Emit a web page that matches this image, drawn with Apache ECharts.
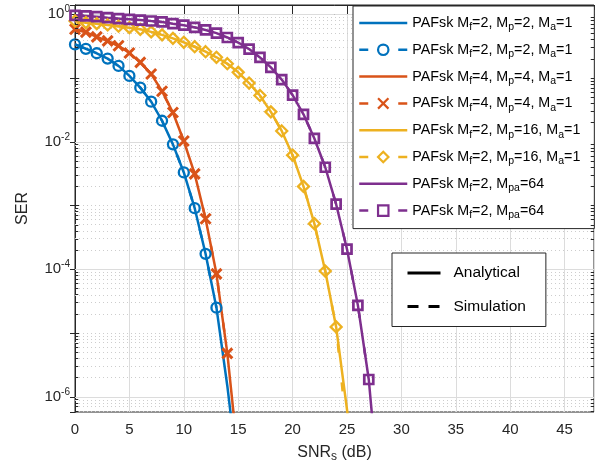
<!DOCTYPE html>
<html><head><meta charset="utf-8">
<script src="https://cdn.jsdelivr.net/npm/echarts@6/dist/echarts.min.js"></script>
<style>html,body{margin:0;padding:0;background:#fff}#c{width:598px;height:468px}</style>
</head><body><div id="c"></div>
<script>
// SNR_s (dB) grid
const snr = [0,1,2,3,4,5,6,7,8,9,10,11,12,13,14,15,16,17,18,19,20,21,22,23,24,25,26,27,28];
// SER values
const blueAna   = [0.337,0.288,0.245,0.202,0.155,0.108,0.0708,0.0427,0.0214,0.00912,0.00331,9.1e-4,1.75e-4,2.5e-5,1.48e-6,5.5e-8];
const blueSim   = [0.337,0.288,0.245,0.202,0.155,0.108,0.0708,0.0427,0.0214,0.00912,0.00331,9.1e-4,1.75e-4,2.5e-5];
const orangeAna = [0.583,0.525,0.443,0.384,0.321,0.247,0.176,0.116,0.0622,0.0288,0.0103,0.00314,6.2e-4,8.5e-5,4.8e-6,1.1e-7];
const orangeSim = [0.583,0.525,0.443,0.384,0.321,0.247,0.176,0.116,0.0622,0.0288,0.0103,0.00314,6.2e-4,8.5e-5,4.8e-6];
const yellowAna = [0.787,0.740,0.714,0.681,0.650,0.618,0.583,0.530,0.476,0.420,0.364,0.310,0.259,0.212,0.168,0.123,0.0836,0.0533,0.0295,0.0148,0.00617,0.0020,5.2e-4,9.4e-5,1.25e-5,6.3e-7,1.6e-8];
const yellowSim = [0.787,0.740,0.714,0.681,0.650,0.618,0.583,0.530,0.476,0.420,0.364,0.310,0.259,0.212,0.168,0.123,0.0836,0.0533,0.0295,0.0148,0.00617,0.0020,5.2e-4,9.4e-5,1.25e-5,2.5e-7];
const purpleAna = [0.964,0.942,0.918,0.885,0.855,0.836,0.813,0.785,0.759,0.714,0.676,0.624,0.569,0.506,0.433,0.361,0.285,0.211,0.147,0.0948,0.0540,0.0270,0.0113,0.00399,1.05e-3,2.07e-4,2.72e-5,1.87e-6,2.4e-8];
const purpleSim = [0.964,0.942,0.918,0.885,0.855,0.836,0.813,0.785,0.759,0.714,0.676,0.624,0.569,0.506,0.433,0.361,0.285,0.211,0.147,0.0948,0.0540,0.0270,0.0113,0.00399,1.05e-3,2.07e-4,2.72e-5,1.87e-6];

const legendLabels = {
  a1:'PAFsk M{s|f}=2, M{s|p}=2, M{s|a}=1', s1:'PAFsk M{s|f}=2, M{s|p}=2, M{s|a}=1',
  a2:'PAFsk M{s|f}=4, M{s|p}=4, M{s|a}=1', s2:'PAFsk M{s|f}=4, M{s|p}=4, M{s|a}=1',
  a3:'PAFsk M{s|f}=2, M{s|p}=16, M{s|a}=1', s3:'PAFsk M{s|f}=2, M{s|p}=16, M{s|a}=1',
  a4:'PAFsk M{s|f}=2, M{s|pa}=64', s4:'PAFsk M{s|f}=2, M{s|pa}=64'
};
const xTicks = [0,5,10,15,20,25,30,35,40,45];
const Y_MIN = 5.78e-7, Y_MAX = 1.4, X_MAX = 47.7;

const FONT = 'Liberation Sans, Arial, Helvetica, sans-serif';
const TXT = '#262626';
const C = ['#0072BD','#D95319','#EDB120','#7E2F8E'];
const crossPath = 'path://M0,0L10,10M10,0L0,10';
const syms = ['circle', crossPath, 'diamond', 'rect'];
const symSizes = [10, 10, 11, 9];
const symBorder = [2.3, 3, 2.3, 2.7];

const pair = (vals) => vals.map((v, i) => [snr[i], v]);
const anaSets = [blueAna, orangeAna, yellowAna, purpleAna];
const simSets = [blueSim, orangeSim, yellowSim, purpleSim];

const series = [];
for (let k = 0; k < 4; k++) {
  series.push({
    name: 'a' + (k + 1), type: 'line', data: pair(anaSets[k]),
    symbol: 'none', z: 3, clip: true,
    lineStyle: { color: C[k], width: 2.5 },
    itemStyle: { color: 'rgba(0,0,0,0)', borderWidth: 0 },
    emphasis: { disabled: true }
  });
  series.push({
    name: 's' + (k + 1), type: 'line', data: pair(simSets[k]),
    symbol: syms[k], symbolSize: symSizes[k], showAllSymbol: true, z: 4, clip: true,
    lineStyle: { color: C[k], width: 2.5, type: [9, 30] },
    itemStyle: { color: 'rgba(0,0,0,0)', borderColor: C[k], borderWidth: symBorder[k] },
    emphasis: { disabled: true }
  });
}
series.push({ name: 'Analytical', type: 'line', data: [], symbol: 'none',
  lineStyle: { color: '#000', width: 3 }, itemStyle: { color: 'rgba(0,0,0,0)', borderWidth: 0 } });
series.push({ name: 'Simulation', type: 'line', data: [], symbol: 'none',
  lineStyle: { color: '#000', width: 3, type: [11, 10] }, itemStyle: { color: 'rgba(0,0,0,0)', borderWidth: 0 } });

// log-decade grid lines and minor ticks, positioned via a hidden log10-space axis
const lg = Math.log10;
const majorY = [1, 1e-2, 1e-4, 1e-6];
const minorY = [];
for (let e = 0; e >= -7; e--) {
  for (let m = 1; m <= 9; m++) {
    const v = m * Math.pow(10, e);
    if (v > Y_MAX || v < Y_MIN) continue;
    if (m === 1 && e % 2 === 0) continue;
    minorY.push(v);
  }
}
const gridData = majorY.map(v => ({ yAxis: lg(v), lineStyle: { color: '#dcdcdc', width: 1, type: 'solid' } }))
  .concat(minorY.map(v => ({ yAxis: lg(v), lineStyle: { color: '#cdcdcd', width: 1, type: [1, 3] } })));
const tickData = [];
minorY.forEach(v => {
  tickData.push([{ coord: [0, lg(v)] }, { coord: [0.3, lg(v)] }]);
  tickData.push([{ coord: [X_MAX - 0.3, lg(v)] }, { coord: [X_MAX, lg(v)] }]);
});
series.push({
  name: '_grid', type: 'line', data: [], yAxisIndex: 2, z: 1, silent: true,
  markLine: { silent: true, symbol: ['none', 'none'], label: { show: false }, z: 1,
    emphasis: { disabled: true }, animation: false, data: gridData }
});
series.push({
  name: '_ticks', type: 'line', data: [], yAxisIndex: 2, z: 6, silent: true,
  markLine: { silent: true, symbol: ['none', 'none'], label: { show: false }, z: 6,
    emphasis: { disabled: true }, animation: false,
    lineStyle: { color: TXT, width: 1, type: 'solid' }, data: tickData }
});

const chart = echarts.init(document.getElementById('c'), null, { renderer: 'canvas' });
chart.setOption({
  animation: false,
  backgroundColor: '#fff',
  textStyle: { fontFamily: FONT },
  grid: { left: 75, right: 4, top: 5, bottom: 56, show: true, borderColor: TXT, borderWidth: 1, backgroundColor: 'rgba(0,0,0,0)' },
  xAxis: [{
    type: 'value', min: 0, max: X_MAX, interval: 5,
    name: 'SNR{s|s} (dB)', nameLocation: 'middle', nameGap: 31,
    nameTextStyle: { fontSize: 16, color: TXT, fontFamily: FONT, lineHeight: 20,
      rich: { s: { fontSize: 12, lineHeight: 12, verticalAlign: 'bottom', fontFamily: FONT, color: TXT } } },
    axisLine: { show: true, lineStyle: { color: TXT } },
    axisTick: { show: true, inside: true, length: 5, lineStyle: { color: TXT } },
    axisLabel: { fontSize: 15, color: TXT, margin: 10, showMaxLabel: false, fontFamily: FONT,
      formatter: v => (xTicks.indexOf(v) >= 0 ? String(v) : '') },
    splitLine: { show: true, lineStyle: { color: '#dcdcdc', width: 1 } }
  }, {
    type: 'value', min: 0, max: X_MAX, interval: 5, position: 'top',
    axisLine: { show: true, lineStyle: { color: TXT } },
    axisTick: { show: true, inside: true, length: 5, lineStyle: { color: TXT } },
    axisLabel: { show: false }, splitLine: { show: false }
  }],
  yAxis: [{
    type: 'log', logBase: 10, min: Y_MIN, max: Y_MAX,
    name: 'SER', nameLocation: 'middle', nameGap: 44,
    nameTextStyle: { fontSize: 16, color: TXT, fontFamily: FONT },
    axisLine: { show: true, lineStyle: { color: TXT } },
    axisTick: { show: true, inside: true, length: 5, lineStyle: { color: TXT } },
    axisLabel: { fontSize: 15, color: TXT, margin: 5, showMinLabel: false, showMaxLabel: false, fontFamily: FONT,
      lineHeight: 20,
      rich: { p: { fontSize: 10, lineHeight: 10, verticalAlign: 'top', fontFamily: FONT, color: TXT } },
      formatter: v => {
        const l = Math.log10(v); const e = Math.round(l);
        if (Math.abs(l - e) > 1e-6 || e % 2 !== 0) return '';
        return '10{p|' + e + '}';
      } },
    splitLine: { show: false }, minorTick: { show: false }
  }, {
    type: 'log', logBase: 10, min: Y_MIN, max: Y_MAX, position: 'right',
    axisLine: { show: true, lineStyle: { color: TXT } },
    axisTick: { show: true, inside: true, length: 5, lineStyle: { color: TXT } },
    axisLabel: { show: false }, splitLine: { show: false }
  }, {
    type: 'value', min: lg(Y_MIN), max: lg(Y_MAX), show: false,
    axisLine: { show: false }, axisTick: { show: false }, axisLabel: { show: false }, splitLine: { show: false }
  }],
  legend: [{
    data: ['a1','s1','a2','s2','a3','s3','a4','s4'],
    orient: 'vertical', left: 353, top: 6,
    itemWidth: 48, itemHeight: 13, itemGap: 6.8,
    padding: [7, 14, 8, 5],
    backgroundColor: '#fff', borderColor: TXT, borderWidth: 1, borderRadius: 0,
    selectedMode: false,
    lineStyle: { width: 2.5 },
    itemStyle: { borderWidth: 2.2 },
    formatter: n => legendLabels[n],
    textStyle: { fontSize: 14.3, color: '#000', fontFamily: FONT, lineHeight: 20,
      rich: { s: { fontSize: 10.5, lineHeight: 12, verticalAlign: 'bottom', fontFamily: FONT, color: '#000' } } }
  }, {
    data: ['Analytical', 'Simulation'],
    orient: 'vertical', left: 392, top: 253,
    itemWidth: 33, itemHeight: 14, itemGap: 17.5,
    padding: [12, 20, 12, 14],
    backgroundColor: '#fff', borderColor: TXT, borderWidth: 1, borderRadius: 0,
    selectedMode: false,
    lineStyle: { width: 3 },
    textStyle: { fontSize: 15.5, color: '#000', fontFamily: FONT, padding: [0, 0, 0, 8] }
  }],
  series: series
});
</script></body></html>
